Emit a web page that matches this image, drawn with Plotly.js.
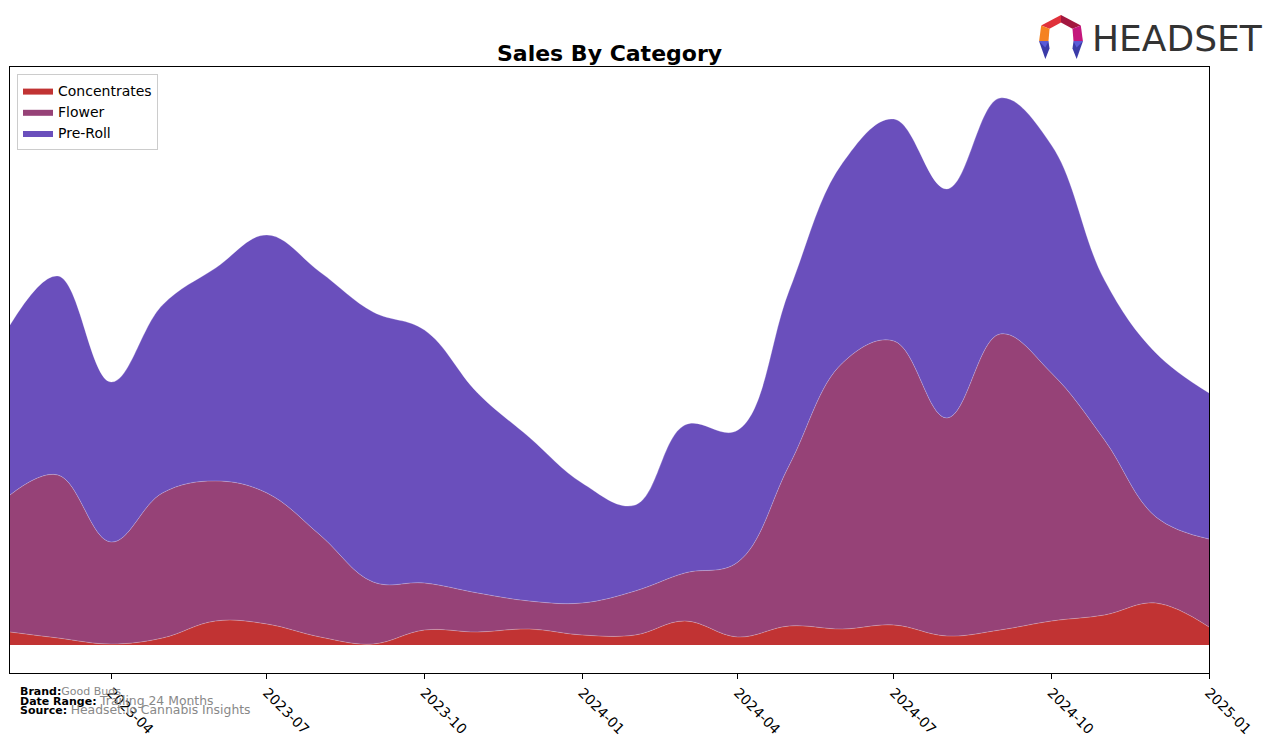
<!DOCTYPE html>
<html>
<head>
<meta charset="utf-8">
<script src="https://cdn.plot.ly/plotly-3.0.1.min.js"></script>
<style>
  html, body { margin: 0; padding: 0; background: #fff; }
  #chart { width: 1276px; height: 743px; }
</style>
</head>
<body>
<div id="chart"></div>
<script>
// Monthly dates
const months = [
  "2023-02-01","2023-03-01","2023-04-01","2023-05-01","2023-06-01","2023-07-01",
  "2023-08-01","2023-09-01","2023-10-01","2023-11-01","2023-12-01","2024-01-01",
  "2024-02-01","2024-03-01","2024-04-01","2024-05-01","2024-06-01","2024-07-01",
  "2024-08-01","2024-09-01","2024-10-01","2024-11-01","2024-12-01","2025-01-01"
];
// Series values (relative sales units)
const concentrates = [13, 7, 1, 7, 24, 21, 8, 1, 15, 13, 16, 10, 10, 24, 8, 19, 16, 20, 9, 15, 24, 30, 42, 18];
const flower       = [137, 163, 102, 145, 140, 131, 102, 62, 47, 39, 28, 32, 44, 48, 75, 161, 266, 284, 218, 296, 248, 175, 86, 88];
const preRoll      = [170, 199, 160, 188, 213, 258, 263, 270, 253, 200, 164, 120, 86, 148, 132, 175, 200, 222, 229, 236, 228, 160, 164, 146];

const tickDates  = ["2023-04-01","2023-07-01","2023-10-01","2024-01-01","2024-04-01","2024-07-01","2024-10-01","2025-01-01"];
const tickLabels = ["2023-04","2023-07","2023-10","2024-01","2024-04","2024-07","2024-10","2025-01"];

const seriesNames  = ["Concentrates", "Flower", "Pre-Roll"];
const seriesColors = ["#C13333", "#964277", "#6A4FBC"];
const seriesValues = [concentrates, flower, preRoll];

const SMOOTH = 1.1;

// Filled stacked areas
const traces = seriesNames.map((name, i) => ({
  type: "scatter",
  mode: "lines",
  name: name,
  x: months,
  y: seriesValues[i],
  stackgroup: "one",
  line: { shape: "spline", smoothing: SMOOTH, width: 0 },
  fillcolor: seriesColors[i],
  hoverinfo: "x+y+name"
}));

// Thin light edge lines on the stacked boundaries (derived from the same arrays)
let running = months.map(() => 0);
seriesValues.forEach((vals, i) => {
  running = running.map((r, k) => r + vals[k]);
  traces.push({
    type: "scatter",
    mode: "lines",
    x: months,
    y: running.slice(),
    showlegend: false,
    hoverinfo: "skip",
    line: { shape: "spline", smoothing: SMOOTH, width: 0.7, color: "rgba(255,255,255,0.35)" }
  });
});

// Logo icon as inline SVG
const logoSvg = `<svg xmlns="http://www.w3.org/2000/svg" width="46" height="46" viewBox="0 0 46 46">
<polygon points="4,12 23,2 23,9 12,15" fill="#E0313B"/>
<polygon points="23,2 42,12 34,15 23,9" fill="#A3173F"/>
<polygon points="4,12 12,15 11,27 2,27" fill="#F58220"/>
<polygon points="42,12 44,27 35,27 34,15" fill="#C4177C"/>
<polygon points="2,27 11,27 12,34 8,44" fill="#3B3BA8"/>
<polygon points="2,27 11,27 8,33" fill="#5A5AD8"/>
<polygon points="35,27 44,27 38,44 34,34" fill="#3B3BA8"/>
<polygon points="35,27 44,27 38,33" fill="#5A5AD8"/>
</svg>`;
const logoUri = "data:image/svg+xml;base64," + btoa(logoSvg);

// pixel -> paper helpers (plot area x:10..1209, y:67..673)
const px = v => (v - 10) / 1199;
const py = v => (673 - v) / 606;

const footFont = { family: "DejaVu Sans, sans-serif", size: 11, color: "#000" };

const layout = {
  width: 1276,
  height: 743,
  margin: { l: 10, r: 67, t: 67, b: 70 },
  paper_bgcolor: "#fff",
  plot_bgcolor: "#fff",
  title: {
    text: "<b>Sales By Category</b>",
    font: { family: "DejaVu Sans, sans-serif", size: 22, color: "#000" },
    x: 0.4777, xanchor: "center",
    y: 1 - 53 / 743, yanchor: "middle"
  },
  showlegend: true,
  legend: {
    x: px(17), y: py(74), xanchor: "left", yanchor: "top",
    bgcolor: "rgba(255,255,255,0.9)",
    bordercolor: "#CCCCCC", borderwidth: 1,
    font: { family: "DejaVu Sans, sans-serif", size: 14, color: "#000" },
    traceorder: "normal",
    itemwidth: 30
  },
  xaxis: {
    type: "date",
    range: ["2023-02-01", "2025-01-01"],
    tickmode: "array",
    tickvals: tickDates,
    ticktext: tickLabels,
    tickangle: 45,
    ticks: "outside", ticklen: 5, tickcolor: "#000", tickwidth: 1,
    tickfont: { family: "DejaVu Sans, sans-serif", size: 14, color: "#000" },
    showgrid: false, zeroline: false,
    showline: true, mirror: true, linecolor: "#000", linewidth: 1
  },
  yaxis: {
    range: [-28, 578],
    showticklabels: false, ticks: "",
    showgrid: false, zeroline: false,
    showline: true, mirror: true, linecolor: "#000", linewidth: 1
  },
  images: [{
    source: logoUri,
    xref: "paper", yref: "paper",
    x: px(1037), y: py(13),
    sizex: 48 / 1199, sizey: 48 / 606,
    xanchor: "left", yanchor: "top",
    sizing: "contain", layer: "above"
  }],
  annotations: [
    { xref: "paper", yref: "paper", x: px(1090), y: py(38), xanchor: "left", yanchor: "middle",
      text: "HEADSET", showarrow: false,
      font: { family: "DejaVu Sans, sans-serif", size: 36, color: "#333333" } },
    { xref: "paper", yref: "paper", x: px(18), y: py(691), xanchor: "left", yanchor: "middle",
      text: "<b>Brand:</b><span style='color:#888888'>Good Buds</span>", showarrow: false, font: footFont },
    { xref: "paper", yref: "paper", x: px(18), y: py(700), xanchor: "left", yanchor: "middle",
      text: "<b>Date Range:</b> <span style='color:#888888;font-size:12.4px'>Trailing 24 Months</span>", showarrow: false, font: footFont },
    { xref: "paper", yref: "paper", x: px(18), y: py(709), xanchor: "left", yanchor: "middle",
      text: "<b>Source:</b> <span style='color:#888888;font-size:12.4px'>Headset.io Cannabis Insights</span>", showarrow: false, font: footFont }
  ]
};

Plotly.newPlot("chart", traces, layout, { displayModeBar: false, staticPlot: true });
</script>
</body>
</html>
